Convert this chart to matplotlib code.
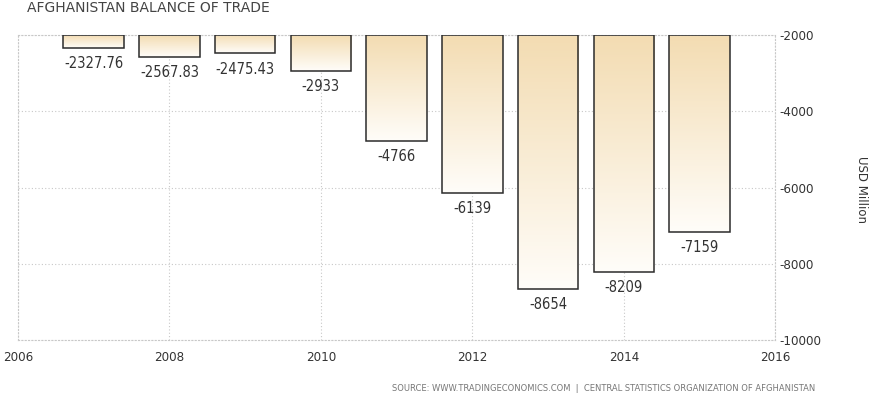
import matplotlib
matplotlib.use('Agg')
import matplotlib.pyplot as plt
import numpy as np

years = [2007, 2008, 2009, 2010, 2011, 2012, 2013, 2014, 2015]
balance = [-2327.76, -2567.83, -2475.43, -2933, -4766, -6139, -8654, -8209, -7159]
labels = ['-2327.76', '-2567.83', '-2475.43', '-2933', '-4766', '-6139', '-8654', '-8209', '-7159']
xticks = [2006, 2008, 2010, 2012, 2014, 2016]
yticks = [-2000, -4000, -6000, -8000, -10000]

plt.rcParams['font.family'] = ['DejaVu Sans']
plt.rcParams['axes.unicode_minus'] = False
txt = '#333333'

fig = plt.figure(figsize=(8.9, 3.95), dpi=100)
ax = fig.add_axes([0.0202, 0.139, 0.851, 0.772])

# gradient: tan at top fading to near white at bottom
grad = np.linspace(0, 1, 256).reshape(-1, 1)
cmap = matplotlib.colors.LinearSegmentedColormap.from_list('g', ['#f3dcb2', '#fffdf9'])
base = -2000
w = 0.8
for x, v, lab in zip(years, balance, labels):
    ax.imshow(grad, extent=(x - w/2, x + w/2, v, base), cmap=cmap, aspect='auto',
              origin='upper', zorder=2)
    ax.add_patch(plt.Rectangle((x - w/2, v), w, base - v, fill=False,
                               edgecolor='#2b2b2b', linewidth=1.1, zorder=3))
    ax.annotate(lab, (x, v), xytext=(0, -6), textcoords='offset points',
                ha='center', va='top', fontsize=10.5, color=txt,
                stretch='condensed')
ax.set_xlim(2006, 2016)
ax.set_ylim(-10000, -2000)

ax.set_xticks(xticks)
ax.set_yticks(yticks)
ax.set_xticklabels([str(t) for t in xticks], stretch='condensed')
ax.set_yticklabels([str(t) for t in yticks], stretch='condensed')
ax.yaxis.tick_right()
ax.tick_params(axis='both', length=0, labelsize=9.5, colors=txt)
ax.tick_params(axis='x', pad=8)
ax.tick_params(axis='y', pad=3)
ax.grid(True, linestyle=(0, (1, 2)), color='#c8c8c8', linewidth=0.8, zorder=0)
ax.set_axisbelow(True)
for s in ['left', 'right', 'top', 'bottom']:
    ax.spines[s].set_linestyle((0, (1, 2)))
    ax.spines[s].set_color('#c8c8c8')
    ax.spines[s].set_linewidth(0.8)

fig.text(0.968, 0.52, 'USD Million', rotation=-90, ha='center', va='center',
         fontsize=8.5, color=txt)
fig.text(0.03, 0.997, 'AFGHANISTAN BALANCE OF TRADE', ha='left', va='top',
         fontsize=10, color='#444444')
fig.text(0.44, 0.006, 'SOURCE: WWW.TRADINGECONOMICS.COM  |  CENTRAL STATISTICS ORGANIZATION OF AFGHANISTAN',
         ha='left', va='bottom', fontsize=6, color='#777777')

plt.savefig('out.png', dpi=100)
